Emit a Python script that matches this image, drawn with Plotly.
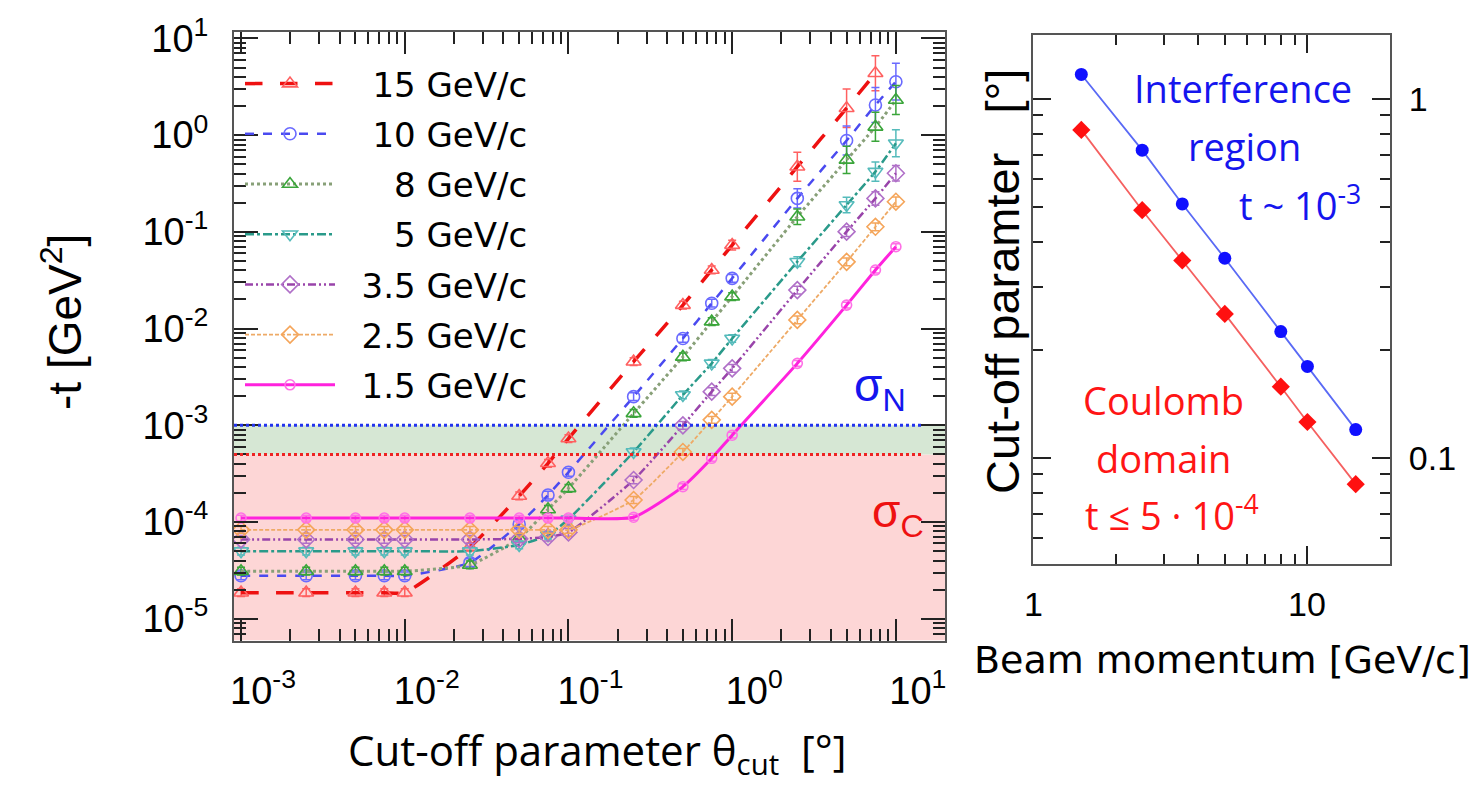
import math
import plotly.graph_objects as go

W, H = 1471, 785

# ---------------- data: left panel ----------------
theta = [1e-3, 2.5e-3, 5e-3, 7.5e-3, 1e-2, 2.5e-2, 5e-2, 7.5e-2, 0.1,
         0.25, 0.5, 0.75, 1, 2.5, 5, 7.5, 10]

t_15 = [1.86e-5, 1.86e-5, 1.86e-5, 1.86e-5, 1.86e-5, 5.5e-5, 1.86e-4, 4.05e-4, 7.3e-4,
        4.55e-3, 1.75e-2, 4.04e-2, 7.3e-2, 0.472, 1.90, 4.37, None]
t_10 = [2.78e-5, 2.78e-5, 2.78e-5, 2.78e-5, 2.78e-5, 3.8e-5, 9.5e-5, 1.9e-4, 3.27e-4,
        1.98e-3, 7.9e-3, 1.83e-2, 3.31e-2, 0.222, 0.88, 2.05, 3.57]
t_8 = [3.1e-5, 3.1e-5, 3.1e-5, 3.1e-5, 3.1e-5, 3.6e-5, 6.8e-5, 1.35e-4, 2.23e-4,
       1.33e-3, 5.1e-3, 1.18e-2, 2.14e-2, 0.1435, 0.555, 1.22, 2.31]
t_5 = [5.0e-5, 5.0e-5, 5.0e-5, 5.0e-5, 5.0e-5, 5.0e-5, 5.8e-5, 7.3e-5, 1.07e-4,
       5.3e-4, 2.06e-3, 4.37e-3, 7.9e-3, 0.0492, 0.19, 0.42, 0.824]
t_35 = [6.6e-5, 6.6e-5, 6.6e-5, 6.6e-5, 6.6e-5, 6.6e-5, 6.7e-5, 7.0e-5, 7.8e-5,
        2.72e-4, 1.0e-3, 2.23e-3, 3.88e-3, 0.025, 0.1005, 0.222, 0.404]
t_25 = [8.3e-5, 8.3e-5, 8.3e-5, 8.3e-5, 8.3e-5, 8.3e-5, 8.3e-5, 8.3e-5, 8.3e-5,
        1.69e-4, 5.3e-4, 1.14e-3, 1.98e-3, 0.0123, 0.049, 0.113, 0.205]
t_15b = [1.1e-4, 1.1e-4, 1.1e-4, 1.1e-4, 1.1e-4, 1.1e-4, 1.1e-4, 1.1e-4, 1.1e-4,
         1.12e-4, 2.32e-4, 4.56e-4, 7.9e-4, 4.37e-3, 0.0175, 0.0403, 0.0703]

# error bar half-widths, in decades
e_15 = [0.04, 0.04, 0.04, 0.04, 0.04, 0.04, 0.04, 0.04, 0.04, 0.04, 0.04, 0.04, 0.05, 0.15, 0.2, 0.18, None]
e_10 = [0.04, 0.04, 0.04, 0.04, 0.04, 0.04, 0.04, 0.04, 0.04, 0.04, 0.04, 0.04, 0.04, 0.1, 0.15, 0.18, 0.19]
e_8 = [0.04, 0.04, 0.04, 0.04, 0.04, 0.04, 0.04, 0.04, 0.04, 0.04, 0.04, 0.04, 0.04, 0.08, 0.14, 0.15, 0.15]
e_5 = [0.04, 0.04, 0.04, 0.04, 0.04, 0.04, 0.04, 0.04, 0.04, 0.04, 0.04, 0.04, 0.04, 0.05, 0.08, 0.1, 0.14]
e_35 = [0.04, 0.04, 0.04, 0.04, 0.04, 0.04, 0.04, 0.04, 0.04, 0.04, 0.04, 0.04, 0.04, 0.04, 0.05, 0.07, 0.08]
e_25 = [0.035, 0.035, 0.035, 0.035, 0.035, 0.035, 0.035, 0.035, 0.035, 0.035, 0.035, 0.035, 0.035, 0.04, 0.04, 0.04, 0.05]
e_15b = [0.03, 0.03, 0.03, 0.03, 0.03, 0.03, 0.03, 0.03, 0.03, 0.03, 0.03, 0.03, 0.03, 0.03, 0.03, 0.03, 0.03]

labels = ["15 GeV/c", "10 GeV/c", "8 GeV/c", "5 GeV/c", "3.5 GeV/c", "2.5 GeV/c", "1.5 GeV/c"]
pads = ["\u00a0\u00a0\u00a0", "\u00a0\u00a0\u00a0", "\u00a0\u00a0\u00a0\u00a0\u00a0",
        "\u00a0\u00a0\u00a0\u00a0\u00a0", "\u00a0\u00a0", "\u00a0\u00a0", "\u00a0\u00a0"]

x_ticks = [1e-3, 1e-2, 1e-1, 1, 10]
x_ticktext = ["10<sup>-3</sup>", "10<sup>-2</sup>", "10<sup>-1</sup>", "10<sup>0</sup>", "10<sup>1</sup>"]
y_ticks = [1e-5, 1e-4, 1e-3, 1e-2, 1e-1, 1, 10]
y_ticktext = ["10<sup>-5</sup>", "10<sup>-4</sup>", "10<sup>-3</sup>", "10<sup>-2</sup>",
              "10<sup>-1</sup>", "10<sup>0</sup>", "10<sup>1</sup>"]

t_coulomb = 5e-4
t_interf = 1e-3

# ---------------- data: right panel ----------------
p_beam = [1.5, 2.5, 3.5, 5, 8, 10, 15]
cut_interf = [1.17, 0.72, 0.51, 0.36, 0.225, 0.18, 0.12]
cut_coul = [0.82, 0.49, 0.355, 0.252, 0.158, 0.126, 0.0846]
p_ticks = [1, 10]
p_ticktext = ["1", "10"]

# ---------------- styles ----------------
series = [
    (t_15, e_15, "#ee1111", "longdash", 3.5, "#ff6060", "triangle-up-open", 13),
    (t_10, e_10, "#4a4af0", "dash", 2.5, "#6a6aff", "circle-open", 12),
    (t_8, e_8, "#88a078", "dot", 3, "#3aa53a", "triangle-up-open", 13),
    (t_5, e_5, "#2a9a8a", "dashdot", 2.5, "#55bbbb", "triangle-down-open", 13),
    (t_35, e_35, "#9944aa", "8px,3px,2px,3px,2px,3px", 2.5, "#b070c8", "diamond-open", 13),
    (t_25, e_25, "#eeaa66", "4px,2px", 1.8, "#f5a55a", "diamond-open", 13),
    (t_15b, e_15b, "#ff22dd", "solid", 3, "#ff70e6", "circle-open", 10),
]

fig = go.Figure()

for i, (vals, errs, lc, dash, lw, mc, sym, ms) in enumerate(series):
    xs, ys, ep, em = [], [], [], []
    for th, v, e in zip(theta, vals, errs):
        if v is None:
            continue
        xs.append(th)
        ys.append(v)
        ep.append(v * (10 ** e - 1))
        em.append(v * (1 - 10 ** (-e)))
    fig.add_trace(go.Scatter(
        x=xs, y=ys, mode="lines+markers",
        name=pads[i] + labels[i], legendgroup=str(i),
        line=dict(color=lc, dash=dash, width=lw, shape="spline", smoothing=0.5),
        marker=dict(symbol=sym, size=ms, color=mc, line=dict(width=1.6, color=mc)),
        error_y=dict(type="data", array=ep, arrayminus=em, symmetric=False,
                     color=mc, thickness=1.5, width=4),
        xaxis="x", yaxis="y",
    ))

# right panel traces
fig.add_trace(go.Scatter(
    x=p_beam, y=cut_interf, mode="lines+markers", showlegend=False,
    line=dict(color="#5a6af5", width=1.8),
    marker=dict(symbol="circle", size=13, color="#1010ff"),
    xaxis="x2", yaxis="y2"))
fig.add_trace(go.Scatter(
    x=p_beam, y=cut_coul, mode="lines+markers", showlegend=False,
    line=dict(color="#f56060", width=1.8),
    marker=dict(symbol="diamond", size=14, color="#ff1010"),
    xaxis="x2", yaxis="y2"))

# ---------------- layout ----------------
def px(x):
    return x / W

def py(y):
    return 1 - y / H

ax_common = dict(type="log", showgrid=False, zeroline=False, showline=True,
                 linecolor="#555555", linewidth=2, mirror="allticks", automargin=False,
                 ticks="inside", tickcolor="#222222", tickwidth=2)

minor_l = dict(ticks="inside", ticklen=12, tickwidth=2, tickcolor="#222222",
               dtick="D1", showgrid=False)
minor_r = dict(ticks="inside", ticklen=10, tickwidth=2, tickcolor="#222222",
               dtick="D1", showgrid=False)

fig.update_layout(
    width=W, height=H, autosize=False,
    margin=dict(l=0, r=0, t=0, b=0),
    paper_bgcolor="white", plot_bgcolor="white",
    font=dict(family="Liberation Sans, Arial, sans-serif", color="black"),
    xaxis=dict(**ax_common, domain=[px(234), px(945)], range=[-3.043, 1.300],
               anchor="y", tickmode="array", tickvals=x_ticks, ticktext=x_ticktext,
               ticklen=22, tickfont=dict(size=38), ticklabelstandoff=16,
               ticklabelshift=22, minor=minor_l),
    yaxis=dict(**ax_common, domain=[py(640.6), py(31.6)], range=[-5.226, 1.071],
               anchor="x", tickmode="array", tickvals=y_ticks, ticktext=y_ticktext,
               ticklen=24, tickfont=dict(size=38), ticklabelstandoff=16, minor=minor_l),
    xaxis2=dict(**ax_common, domain=[px(1033), px(1390)], range=[0, 1.301],
                anchor="y2", tickmode="array", tickvals=p_ticks, ticktext=p_ticktext,
                ticklen=18, showticklabels=False, minor=minor_r),
    yaxis2=dict(**ax_common, domain=[py(564), py(35)], range=[-1.295, 0.178],
                anchor="x2", side="right", dtick=1, ticklen=18, tickfont=dict(size=34),
                ticklabelstandoff=10, minor=minor_r),
    legend=dict(x=px(240), y=py(55), xanchor="left", yanchor="top",
                bgcolor="rgba(0,0,0,0)", font=dict(size=34, family="DejaVu Sans"),
                tracegroupgap=3, itemwidth=90, traceorder="grouped"),
    showlegend=True,
)

# shaded regions and limit lines
fig.add_shape(type="rect", xref="x domain", yref="y", x0=0, x1=1, y0=10 ** -5.226, y1=t_coulomb,
              fillcolor="#fdd6d6", line=dict(width=0), layer="below")
fig.add_shape(type="rect", xref="x domain", yref="y", x0=0, x1=1, y0=t_coulomb, y1=t_interf,
              fillcolor="#d6e7d4", line=dict(width=0), layer="below")
fig.add_shape(type="line", xref="x domain", yref="y", x0=0, x1=0.97, y0=t_interf, y1=t_interf,
              line=dict(color="#2233ee", width=3, dash="dot"))
fig.add_shape(type="line", xref="x domain", yref="y", x0=0, x1=0.97, y0=t_coulomb, y1=t_coulomb,
              line=dict(color="#ee2222", width=3, dash="dot"))

ann = []
def add_text(text, x, y, size, color="black", family="Liberation Sans, Arial", angle=0,
             xanchor="center", xref="paper"):
    ann.append(dict(text=text, x=px(x) if xref == "paper" else x, y=py(y),
                    xref=xref, yref="paper",
                    showarrow=False, xanchor=xanchor, yanchor="middle", textangle=angle,
                    font=dict(size=size, color=color, family=family)))

add_text("-t [GeV<sup>2</sup>]", 62, 322, 46, angle=-90)
add_text("Cut-off parameter θ<sub>cut</sub>  [°]", 597, 752, 42, family="Open Sans, sans-serif")
add_text("σ<sub>N</sub>", 880, 388, 46, color="#1515ee")
add_text("σ<sub>C</sub>", 898, 514, 46, color="#ee1111")

# right panel x tick labels
for tv, tt in zip(p_ticks, p_ticktext):
    add_text(tt, math.log10(tv), 604, 34, xref="x2")

add_text("Cut-off paramter   [°]", 1003, 282, 47, angle=-90)
add_text("Beam momentum [GeV/c]", 1222, 660, 38, family="DejaVu Sans")
add_text("Interference", 1243, 88, 38, color="#1515ee", family="Open Sans, sans-serif")
add_text("region", 1244, 146, 38, color="#1515ee", family="Open Sans, sans-serif")
add_text("t ~ 10<sup>-3</sup>", 1300, 204, 38, color="#1515ee", family="Open Sans, sans-serif")
add_text("Coulomb", 1163, 400, 38, color="#ff1515", family="Open Sans, sans-serif")
add_text("domain", 1163, 458, 38, color="#ff1515", family="Open Sans, sans-serif")
add_text("t ≤ 5 · 10<sup>-4</sup>", 1172, 513, 38, color="#ff1515", family="Open Sans, sans-serif")

fig.update_layout(annotations=ann)

fig.write_html("out.html")
